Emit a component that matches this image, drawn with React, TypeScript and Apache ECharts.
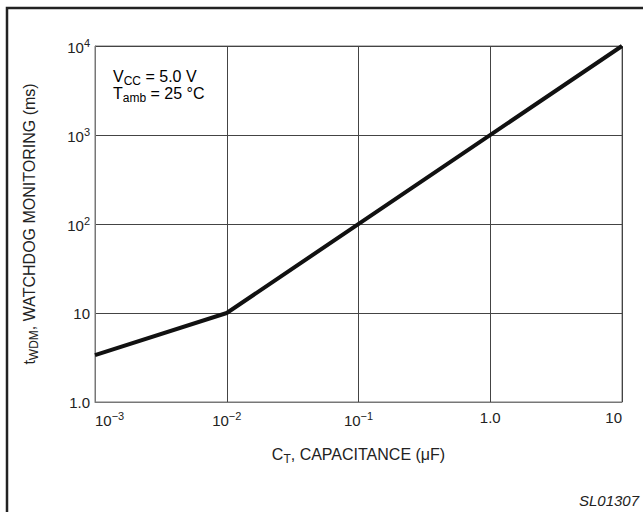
import React, { useEffect, useRef } from "react";
import * as echarts from "echarts";

const capacitance = [0.001, 0.01, 10];
const watchdogMs = [3.37, 10, 10000];
const xTickLabels: Record<number, string> = { [-3]: "{b|10}{s|−3}", [-2]: "{b|10}{s|−2}", [-1]: "{b|10}{s|−1}", 0: "{b|1.0}", 1: "{b|10}" };
const yTickLabels: Record<number, string> = { 0: "{b|1.0}", 1: "{b|10}", 2: "{b|10}{s|2}", 3: "{b|10}{s|3}", 4: "{b|10}{s|4}" };

const FONT = "'Liberation Sans', Arial, sans-serif";
const rich = {
  b: { fontSize: 15, fontFamily: FONT, color: "#222", verticalAlign: "bottom" as const },
  s: { fontSize: 11, fontFamily: FONT, color: "#222", verticalAlign: "bottom" as const, padding: [0, 0, 7, 0] },
};
const subRich = (size: number) => ({
  b: { fontSize: size, fontFamily: FONT, color: "#222", verticalAlign: "top" as const },
  s: { fontSize: size - 4, fontFamily: FONT, color: "#222", verticalAlign: "top" as const, padding: [7, 0, 0, 0] },
});

export default function App() {
  const ref = useRef<HTMLDivElement>(null);
  useEffect(() => {
    const chart = echarts.init(ref.current!, undefined, { renderer: "svg" });
    chart.setOption({
      animation: false,
      backgroundColor: "#fff",
      grid: { left: 95, right: 21, top: 46, bottom: 110, show: true, borderColor: "#777", borderWidth: 1 },
      xAxis: {
        type: "log",
        logBase: 10,
        min: 0.001,
        max: 10,
        name: "{b|C}{s|T}{b|, CAPACITANCE (μF)}",
        nameLocation: "middle",
        nameGap: 44,
        nameTextStyle: { rich: subRich(16) },
        axisLine: { show: true, lineStyle: { color: "#777", width: 1 } },
        axisTick: { show: false },
        splitLine: { show: true, lineStyle: { color: "#444", width: 1 } },
        axisLabel: {
          margin: 8,
          alignMinLabel: "left",
          alignMaxLabel: "right",
          formatter: (v: number) => xTickLabels[Math.round(Math.log10(v))] ?? "",
          rich,
        },
      },
      yAxis: {
        type: "log",
        logBase: 10,
        min: 1,
        max: 10000,
        name: "{b|t}{s|WDM}{b|, WATCHDOG MONITORING (ms)}",
        nameLocation: "middle",
        nameRotate: 90,
        nameGap: 55,
        nameTextStyle: { rich: subRich(16) },
        axisLine: { show: true, lineStyle: { color: "#777", width: 1 } },
        axisTick: { show: false },
        splitLine: { show: true, lineStyle: { color: "#444", width: 1 } },
        axisLabel: {
          margin: 5,
          formatter: (v: number) => yTickLabels[Math.round(Math.log10(v))] ?? "",
          rich,
        },
      },
      series: [
        {
          type: "line",
          data: capacitance.map((c, i) => [c, watchdogMs[i]]),
          showSymbol: false,
          lineStyle: { color: "#111", width: 4 },
          z: 5,
        },
      ],
      graphic: [
        {
          type: "rect",
          shape: { x: 7, y: 8, width: 700, height: 600 },
          style: { fill: "none", stroke: "#222", lineWidth: 2.5 },
          silent: true,
        },
        {
          type: "text",
          x: 113,
          y: 68,
          style: { text: "{b|V}{s|CC}{b| = 5.0 V}", rich: subRich(16) },
        },
        {
          type: "text",
          x: 113,
          y: 85,
          style: { text: "{b|T}{s|amb}{b| = 25 °C}", rich: subRich(16) },
        },
        {
          type: "text",
          right: 4,
          top: 493,
          style: { text: "SL01307", font: `italic 15px ${FONT}`, fill: "#222" },
        },
      ],
    });
    return () => chart.dispose();
  }, []);
  return <div ref={ref} style={{ width: 643, height: 512, position: "absolute", left: 0, top: 0 }} />;
}
